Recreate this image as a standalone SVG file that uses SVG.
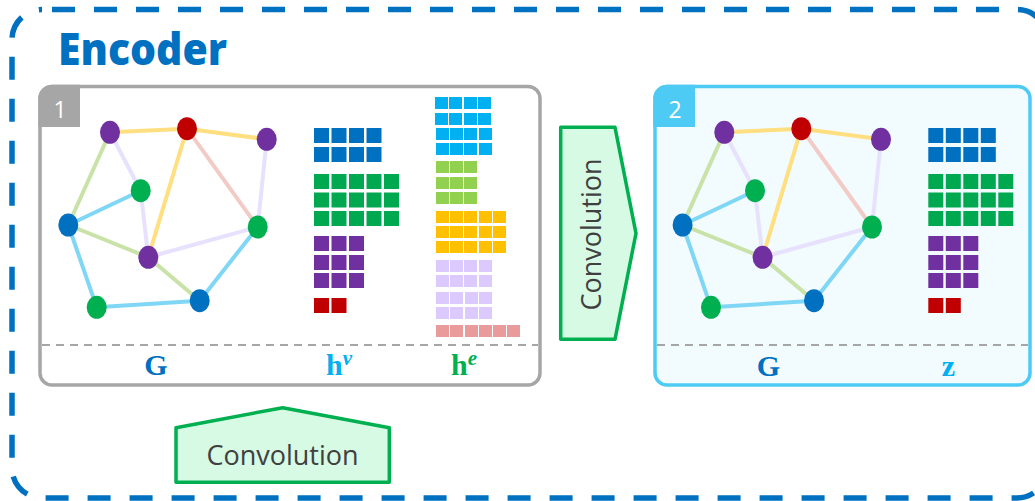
<svg xmlns="http://www.w3.org/2000/svg" width="1035" height="501" viewBox="0 0 1035 501">
<defs>
<style>
.edge{stroke-width:4;stroke-linecap:round;fill:none}
.y{stroke:#ffdf80}.lg{stroke:#c8e2a8}.lv{stroke:#e7e1fd}.pk{stroke:#f3cbc6}.lb{stroke:#80d6f5}
.np{fill:#7030a0}.nr{fill:#c00000}.ng{fill:#00b050}.nb{fill:#0070c0}
.sep{stroke:#a6a6a6;stroke-width:2;stroke-dasharray:8 6;fill:none}
.lbl{font-family:"Liberation Serif","DejaVu Serif",serif;font-weight:bold;font-size:30px}
.sup{font-style:italic;font-size:21px}
.conv{fill:#d6fae4;stroke:#00b050;stroke-width:3.5;stroke-linejoin:round}
.convt{font-family:"Open Sans","Liberation Sans",sans-serif;font-size:27px;fill:#404040}
.q1{fill:#0070c0}.q2{fill:#00a84f}.q3{fill:#7030a0}.q4{fill:#c00000}
.e1{fill:#00b0f0}.e2{fill:#92d050}.e3{fill:#ffc000}.e4{fill:#dccaff}.e5{fill:#e99a9a}
</style>
<g id="graph-edges">
<line class="edge y" x1="110" y1="132.3" x2="187" y2="128.7"/>
<line class="edge y" x1="187" y1="128.7" x2="266.7" y2="139.3"/>
<line class="edge lv" x1="110" y1="132.3" x2="140.7" y2="190.7"/>
<line class="edge lg" x1="110" y1="132.3" x2="68.3" y2="225"/>
<line class="edge y" x1="187" y1="128.7" x2="148.3" y2="257.3"/>
<line class="edge pk" x1="187" y1="128.7" x2="257.7" y2="227"/>
<line class="edge lv" x1="266.7" y1="139.3" x2="257.7" y2="227"/>
<line class="edge lb" x1="140.7" y1="190.7" x2="68.3" y2="225"/>
<line class="edge lv" x1="140.7" y1="190.7" x2="148.3" y2="257.3"/>
<line class="edge lg" x1="68.3" y1="225" x2="148.3" y2="257.3"/>
<line class="edge lb" x1="68.3" y1="225" x2="96.7" y2="307.3"/>
<line class="edge lv" x1="148.3" y1="257.3" x2="257.7" y2="227"/>
<line class="edge lg" x1="148.3" y1="257.3" x2="199.7" y2="300.7"/>
<line class="edge lb" x1="257.7" y1="227" x2="199.7" y2="300.7"/>
<line class="edge lb" x1="96.7" y1="307.3" x2="199.7" y2="300.7"/>
</g>
<g id="graph-nodes">
<ellipse class="np" cx="110" cy="132.3" rx="10" ry="11.5"/>
<ellipse class="nr" cx="187" cy="128.7" rx="10" ry="11.5"/>
<ellipse class="np" cx="266.7" cy="139.3" rx="10" ry="11.5"/>
<ellipse class="ng" cx="140.7" cy="190.7" rx="10" ry="11.5"/>
<ellipse class="nb" cx="68.3" cy="225" rx="10" ry="11.5"/>
<ellipse class="ng" cx="257.7" cy="227" rx="10" ry="11.5"/>
<ellipse class="np" cx="148.3" cy="257.3" rx="10" ry="11.5"/>
<ellipse class="ng" cx="96.7" cy="307.3" rx="10" ry="11.5"/>
<ellipse class="nb" cx="199.7" cy="300.7" rx="10" ry="11.5"/>
</g>
<g id="hv-grid">
<rect class="q1" x="314" y="128" width="15" height="15"/><rect class="q1" x="331.5" y="128" width="15" height="15"/><rect class="q1" x="349" y="128" width="15" height="15"/><rect class="q1" x="366.5" y="128" width="15" height="15"/>
<rect class="q1" x="314" y="147" width="15" height="15"/><rect class="q1" x="331.5" y="147" width="15" height="15"/><rect class="q1" x="349" y="147" width="15" height="15"/><rect class="q1" x="366.5" y="147" width="15" height="15"/>
<rect class="q2" x="314" y="174" width="15" height="15"/><rect class="q2" x="331.5" y="174" width="15" height="15"/><rect class="q2" x="349" y="174" width="15" height="15"/><rect class="q2" x="366.5" y="174" width="15" height="15"/><rect class="q2" x="384" y="174" width="15" height="15"/>
<rect class="q2" x="314" y="192.5" width="15" height="15"/><rect class="q2" x="331.5" y="192.5" width="15" height="15"/><rect class="q2" x="349" y="192.5" width="15" height="15"/><rect class="q2" x="366.5" y="192.5" width="15" height="15"/><rect class="q2" x="384" y="192.5" width="15" height="15"/>
<rect class="q2" x="314" y="211" width="15" height="15"/><rect class="q2" x="331.5" y="211" width="15" height="15"/><rect class="q2" x="349" y="211" width="15" height="15"/><rect class="q2" x="366.5" y="211" width="15" height="15"/><rect class="q2" x="384" y="211" width="15" height="15"/>
<rect class="q3" x="314" y="236" width="15" height="15"/><rect class="q3" x="331.5" y="236" width="15" height="15"/><rect class="q3" x="349" y="236" width="15" height="15"/>
<rect class="q3" x="314" y="255" width="15" height="15"/><rect class="q3" x="331.5" y="255" width="15" height="15"/><rect class="q3" x="349" y="255" width="15" height="15"/>
<rect class="q3" x="314" y="273" width="15" height="15"/><rect class="q3" x="331.5" y="273" width="15" height="15"/><rect class="q3" x="349" y="273" width="15" height="15"/>
<rect class="q4" x="314" y="298" width="15" height="15"/><rect class="q4" x="331.5" y="298" width="15" height="15"/>
</g>
</defs>

<g id="encoder">
<rect x="12" y="9.5" width="1035" height="488.5" rx="30" fill="none" stroke="#0070c0" stroke-width="5.5" stroke-dasharray="23 19" stroke-dashoffset="-10"/>
<text x="58" y="65" font-family="'Open Sans','Liberation Sans',sans-serif" font-weight="800" font-size="44" fill="#0070c0" stroke="#ffffff" stroke-width="3" paint-order="stroke" textLength="169" lengthAdjust="spacingAndGlyphs">Encoder</text>
</g>

<g id="box1">
<rect x="40" y="86.5" width="500" height="298.5" rx="12" fill="#ffffff" stroke="#a6a6a6" stroke-width="3.5"/>
<path d="M38.25,127 V98.5 A13.75,13.75 0 0 1 52,84.75 H80 V127 Z" fill="#a6a6a6"/>
<text x="60" y="118" font-family="'Open Sans','Liberation Sans',sans-serif" font-size="23" fill="#ffffff" text-anchor="middle">1</text>
<line class="sep" x1="42" y1="345" x2="538" y2="345"/>
<text class="lbl" x="156" y="375" fill="#0070c0" text-anchor="middle">G</text>
<text class="lbl" x="326" y="375" fill="#00b0f0">h<tspan class="sup" dy="-10">v</tspan></text>
<text class="lbl" x="451" y="375" fill="#00b050">h<tspan class="sup" dy="-10">e</tspan></text>
</g>

<g id="box2">
<rect x="655" y="86.5" width="375" height="298.5" rx="12" fill="#f2fbfe" stroke="#4ecbf5" stroke-width="3.5"/>
<path d="M653.25,127 V98.5 A13.75,13.75 0 0 1 667,84.75 H695 V127 Z" fill="#4ecbf5"/>
<text x="675" y="118" font-family="'Open Sans','Liberation Sans',sans-serif" font-size="23" fill="#ffffff" text-anchor="middle">2</text>
<line class="sep" x1="657" y1="345" x2="1028" y2="345"/>
<text class="lbl" x="768.5" y="376" fill="#0070c0" text-anchor="middle">G</text>
<text class="lbl" x="948.5" y="376" fill="#00b0f0" text-anchor="middle">z</text>
</g>

<g id="connectors">
<use href="#graph-edges"/>
<use href="#graph-edges" transform="translate(614.3,0)"/>
</g>

<g id="graph1-nodes"><use href="#graph-nodes"/></g>
<g id="graph2-nodes"><use href="#graph-nodes" transform="translate(614.3,0)"/></g>

<g id="hv"><use href="#hv-grid"/></g>
<g id="z"><use href="#hv-grid" transform="translate(614.3,0)"/></g>

<g id="he">
<rect class="e1" x="435" y="97" width="13" height="12"/><rect class="e1" x="449" y="97" width="13" height="12"/><rect class="e1" x="464" y="97" width="13" height="12"/><rect class="e1" x="478" y="97" width="13" height="12"/>
<rect class="e1" x="435" y="113" width="13" height="12"/><rect class="e1" x="449" y="113" width="13" height="12"/><rect class="e1" x="464" y="113" width="13" height="12"/><rect class="e1" x="478" y="113" width="13" height="12"/>
<rect class="e1" x="436" y="128" width="13" height="12"/><rect class="e1" x="450" y="128" width="13" height="12"/><rect class="e1" x="464" y="128" width="13" height="12"/><rect class="e1" x="479" y="128" width="13" height="12"/>
<rect class="e1" x="436" y="143" width="13" height="12"/><rect class="e1" x="450" y="143" width="13" height="12"/><rect class="e1" x="464" y="143" width="13" height="12"/><rect class="e1" x="479" y="143" width="13" height="12"/>
<rect class="e2" x="436" y="161" width="13" height="12"/><rect class="e2" x="450" y="161" width="13" height="12"/><rect class="e2" x="464" y="161" width="13" height="12"/>
<rect class="e2" x="436" y="177" width="13" height="12"/><rect class="e2" x="450" y="177" width="13" height="12"/><rect class="e2" x="464" y="177" width="13" height="12"/>
<rect class="e2" x="436" y="192" width="13" height="12"/><rect class="e2" x="450" y="192" width="13" height="12"/><rect class="e2" x="464" y="192" width="13" height="12"/>
<rect class="e3" x="436" y="211" width="13" height="12"/><rect class="e3" x="450" y="211" width="13" height="12"/><rect class="e3" x="464" y="211" width="13" height="12"/><rect class="e3" x="479" y="211" width="13" height="12"/><rect class="e3" x="493" y="211" width="13" height="12"/>
<rect class="e3" x="436" y="226" width="13" height="12"/><rect class="e3" x="450" y="226" width="13" height="12"/><rect class="e3" x="464" y="226" width="13" height="12"/><rect class="e3" x="479" y="226" width="13" height="12"/><rect class="e3" x="493" y="226" width="13" height="12"/>
<rect class="e3" x="436" y="241" width="13" height="12"/><rect class="e3" x="450" y="241" width="13" height="12"/><rect class="e3" x="464" y="241" width="13" height="12"/><rect class="e3" x="479" y="241" width="13" height="12"/><rect class="e3" x="493" y="241" width="13" height="12"/>
<rect class="e4" x="436" y="260" width="13" height="12"/><rect class="e4" x="450" y="260" width="13" height="12"/><rect class="e4" x="464" y="260" width="13" height="12"/><rect class="e4" x="479" y="260" width="13" height="12"/>
<rect class="e4" x="436" y="275" width="13" height="12"/><rect class="e4" x="450" y="275" width="13" height="12"/><rect class="e4" x="464" y="275" width="13" height="12"/><rect class="e4" x="479" y="275" width="13" height="12"/>
<rect class="e4" x="436" y="292" width="13" height="12"/><rect class="e4" x="450" y="292" width="13" height="12"/><rect class="e4" x="465" y="292" width="13" height="12"/><rect class="e4" x="479" y="292" width="13" height="12"/>
<rect class="e4" x="436" y="307" width="13" height="12"/><rect class="e4" x="450" y="307" width="13" height="12"/><rect class="e4" x="465" y="307" width="13" height="12"/><rect class="e4" x="479" y="307" width="13" height="12"/>
<rect class="e5" x="436" y="325" width="13" height="12"/><rect class="e5" x="450" y="325" width="13" height="12"/><rect class="e5" x="465" y="325" width="13" height="12"/><rect class="e5" x="479" y="325" width="13" height="12"/><rect class="e5" x="493" y="325" width="13" height="12"/><rect class="e5" x="507" y="325" width="13" height="12"/>
</g>

<g id="conv-right">
<polygon class="conv" points="560.7,127.3 615,127.3 636,233.3 615,339.3 560.7,339.3"/>
<text class="convt" transform="translate(601,234.5) rotate(-90)" text-anchor="middle">Convolution</text>
</g>

<g id="conv-bottom">
<polygon class="conv" points="176,482.3 176,427.7 282.7,407.7 389.3,427.7 389.3,482.3"/>
<text class="convt" x="282.5" y="465" text-anchor="middle">Convolution</text>
</g>
</svg>
